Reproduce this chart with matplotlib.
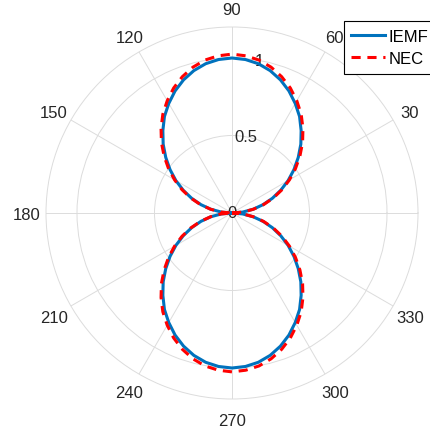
import numpy as np
import matplotlib
matplotlib.use('Agg')
import matplotlib.pyplot as plt
from matplotlib.transforms import offset_copy

plt.rcParams['font.family'] = ['Liberation Sans', 'DejaVu Sans']

# Patron normalizado, cada 5 grados de 0 a 90
# (el patron es simetrico en los cuatro cuadrantes)
ang_cuarto = [0, 5, 10, 15, 20, 25, 30, 35, 40, 45,
              50, 55, 60, 65, 70, 75, 80, 85, 90]
iemf_cuarto = [0.0, 0.069, 0.138, 0.207, 0.277, 0.347, 0.418, 0.488, 0.558, 0.628,
               0.694, 0.760, 0.816, 0.869, 0.914, 0.951, 0.978, 0.994, 1.0]
nec_cuarto = [0.0, 0.071, 0.141, 0.212, 0.284, 0.356, 0.428, 0.500, 0.572, 0.644,
              0.712, 0.778, 0.836, 0.890, 0.936, 0.974, 1.002, 1.018, 1.025]

theta_ticks = [0, 30, 60, 90, 120, 150, 180, 210, 240, 270, 300, 330]
r_ticks = [0, 0.5, 1]
r_max = 1.2


def completar(ang, val):
    # Armo los 360 grados a partir del primer cuadrante
    a = list(ang)
    v = list(val)
    a += [180 - x for x in ang[::-1][1:]]
    v += val[::-1][1:]
    a += [180 + x for x in ang[1:]]
    v += val[1:]
    a += [360 - x for x in ang[::-1][1:]]
    v += val[::-1][1:]
    return np.radians(a), np.array(v)


th, iemf = completar(ang_cuarto, iemf_cuarto)
_, nec = completar(ang_cuarto, nec_cuarto)

fig = plt.figure(figsize=(4.31, 4.35), dpi=100)
ax = fig.add_axes([46 / 431, 35 / 435, 372 / 431, 372 / 435], projection='polar')

ax.plot(th, iemf, '-', color='#0072BD', linewidth=2.2, label='IEMF')
ax.plot(th, nec, '--', color='#FF0000', linewidth=2.2, dashes=(3, 2.2), label='NEC')

ax.set_ylim(0, r_max)
ax.set_yticks(r_ticks)
ax.set_yticklabels(['0', '0.5', '1'])
ax.set_rlabel_position(80)
ax.tick_params(axis='y', labelsize=12, colors='#262626')
for lab in ax.get_yticklabels():
    lab.set_horizontalalignment('center')
    lab.set_verticalalignment('center')

# Etiquetas angulares centradas a radio fijo (como en MATLAB)
ax.set_xticks(np.radians(theta_ticks))
ax.set_xticklabels([])
trans = offset_copy(ax.transData, fig=fig, x=0, y=-2, units='dots')
for t in theta_ticks:
    ax.text(np.radians(t), r_max * 1.105, str(t), ha='center', va='center',
            fontsize=12, color='#262626', clip_on=False, transform=trans)

ax.grid(True, color='#dcdcdc', linewidth=0.7)
ax.spines['polar'].set_color('#dcdcdc')
ax.spines['polar'].set_linewidth(0.7)

leg = fig.legend(loc='upper left', bbox_to_anchor=(344 / 431, 1 - 22 / 435),
                 fontsize=12, fancybox=False, framealpha=1,
                 handlelength=2.0, borderpad=0.45, labelspacing=0.45,
                 handletextpad=0.2, borderaxespad=0)
leg.get_frame().set_edgecolor('black')
leg.get_frame().set_linewidth(0.8)

fig.savefig('out.png', dpi=100)
